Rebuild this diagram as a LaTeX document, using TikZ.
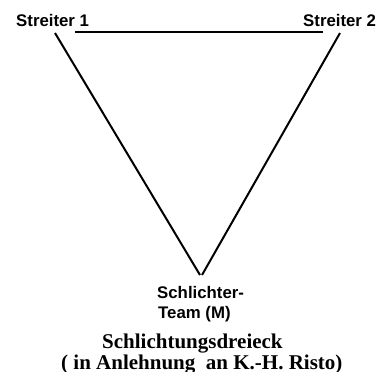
\documentclass[tikz,border=0pt]{standalone}
\usepackage{fontspec}
\setmainfont{Liberation Serif}
\setsansfont{Liberation Sans}
\begin{document}
\begin{tikzpicture}[x=1pt,y=-1pt,
  lbl/.style={font=\sffamily\bfseries\fontsize{16.8}{20}\selectfont, inner sep=0pt, anchor=base west},
  capt/.style={font=\rmfamily\bfseries\fontsize{21}{22}\selectfont, inner sep=0pt, anchor=base west},
  edgeline/.style={line width=2pt, black}]
\useasboundingbox (0,0) rectangle (381,372);
\node[lbl] (s1) at (16,27) {Streiter 1};
\node[lbl] (s2) at (303,27) {Streiter 2};
\node[lbl] (m1) at (157,298) {Schlichter-};
\node[lbl] (m2) at (158,318) {Team (M)};
\node[capt] (t1) at (102,348) {Schlichtungsdreieck};
\node[capt] (t2) at (61,369) {( in Anlehnung\ \ an K.-H. Risto)};
\coordinate (topL) at (75,32);
\coordinate (topR) at (323,32);
\coordinate (leftTop) at (55,33);
\coordinate (rightTop) at (340,33);
\coordinate (vL) at (200,275);
\coordinate (vR) at (202,275);
\draw[edgeline] (topL) -- (topR);
\draw[edgeline] (leftTop) -- (vL);
\draw[edgeline] (rightTop) -- (vR);
\end{tikzpicture}
\end{document}
